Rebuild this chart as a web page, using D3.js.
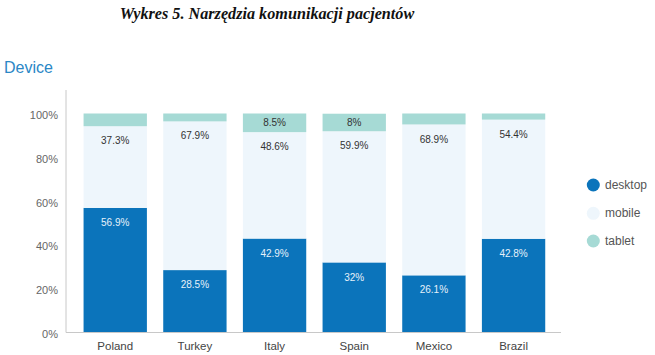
<!DOCTYPE html>
<html><head><meta charset="utf-8">
<script src="https://cdn.jsdelivr.net/npm/d3@7"></script>
<style>html,body{margin:0;padding:0;background:#fff;}svg{display:block;}</style>
</head><body>
<svg id="c" width="655" height="355"></svg>
<script>
const categories = ["Poland","Turkey","Italy","Spain","Mexico","Brazil"];
const desktop = [56.9, 28.5, 42.9, 32, 26.1, 42.8];
const mobile  = [37.3, 67.9, 48.6, 59.9, 68.9, 54.4];
const tablet  = [5.8, 3.6, 8.5, 8, 5.0, 2.8];
const tabletLabels = [null, null, "8.5%", "8%", null, null];
const desktopLabels = ["56.9%","28.5%","42.9%","32%","26.1%","42.8%"];
const mobileLabels = ["37.3%","67.9%","48.6%","59.9%","68.9%","54.4%"];
const seriesNames = ["desktop","mobile","tablet"];
const yTicks = [0,20,40,60,80,100];
const title = "Wykres 5. Narzędzia komunikacji pacjentów";
const subtitle = "Device";

const colors = {desktop:"#0b74bb", mobile:"#eef6fc", tablet:"#a6dad5"};
const svg = d3.select("#c");
const font = "'Liberation Sans', Arial, sans-serif";

const x = d3.scaleBand().domain(categories).range([75.6, 553.2]).paddingInner(0.205).paddingOuter(0.1);
const y = d3.scaleLinear().domain([0, 100]).range([332.5, 113.5]);

svg.append("text").attr("x", 267).attr("y", 19).attr("text-anchor","middle")
  .attr("font-family","'Liberation Serif', 'DejaVu Serif', serif").attr("font-weight","bold").attr("font-style","italic")
  .attr("font-size", 16.2).attr("fill","#111").text(title);
svg.append("text").attr("x", 4).attr("y", 72.5)
  .attr("font-family", font).attr("font-size", 16).attr("fill","#2a87c6").text(subtitle);

const rows = categories.map((c,i)=>({cat:c, desktop:desktop[i], mobile:mobile[i], tablet:tablet[i], i}));
const stack = d3.stack().keys(seriesNames)(rows);

const g = svg.append("g");
stack.forEach(layer=>{
  g.selectAll(null).data(layer).enter().append("rect")
    .attr("x", d=>x(d.data.cat))
    .attr("width", x.bandwidth())
    .attr("y", d=>y(d[1]))
    .attr("height", d=>y(d[0])-y(d[1]))
    .attr("fill", colors[layer.key]);
});

// y axis
const yAxis = d3.axisLeft(y).tickValues(yTicks).tickFormat(d=>d+"%").tickSize(0).tickPadding(8);
const ya = svg.append("g").attr("transform","translate(66,0)").call(yAxis);
ya.select(".domain").remove();
ya.selectAll("text").attr("font-family", font).attr("font-size", 11).attr("fill","#666").attr("dy","0.45em");
svg.append("line").attr("x1",66).attr("x2",66).attr("y1",90).attr("y2",332.5).attr("stroke","#c8c8c8").attr("stroke-width",1);

// x axis
const xAxis = d3.axisBottom(x).tickSize(0).tickPadding(9);
const xa = svg.append("g").attr("transform","translate(0,332.5)").call(xAxis);
xa.select(".domain").remove();
xa.selectAll("text").attr("font-family", font).attr("font-size", 11.5).attr("fill","#444");
svg.append("line").attr("x1",66).attr("x2",561).attr("y1",332.5).attr("y2",332.5).attr("stroke","#c8c8c8").attr("stroke-width",1);

// labels
const labelSets = {desktop:desktopLabels, mobile:mobileLabels, tablet:tabletLabels};
stack.forEach(layer=>{
  const labs = labelSets[layer.key];
  g.selectAll(null).data(layer.filter((d,i)=>labs[i])).enter().append("text")
    .attr("x", d=>x(d.data.cat)+x.bandwidth()/2)
    .attr("y", d=>{
      const top = y(d[1]), h = y(d[0])-y(d[1]);
      return (h < 30 ? top + h/2 : top + 14.5) + 3.6;
    })
    .attr("text-anchor","middle")
    .attr("font-family", font).attr("font-size", 10)
    .attr("fill", layer.key==="desktop" ? "#e6f1fa" : "#333")
    .text(d=>labs[d.data.i]);
});

// legend
const leg = svg.append("g");
const legY = [185, 213.3, 241];
seriesNames.forEach((s,i)=>{
  leg.append("circle").attr("cx",593.3).attr("cy",legY[i]).attr("r",6.5).attr("fill",colors[s]);
  leg.append("text").attr("x",605).attr("y",legY[i]+4).attr("font-family",font).attr("font-size",12).attr("fill","#555").text(s);
});
</script>
</body></html>
